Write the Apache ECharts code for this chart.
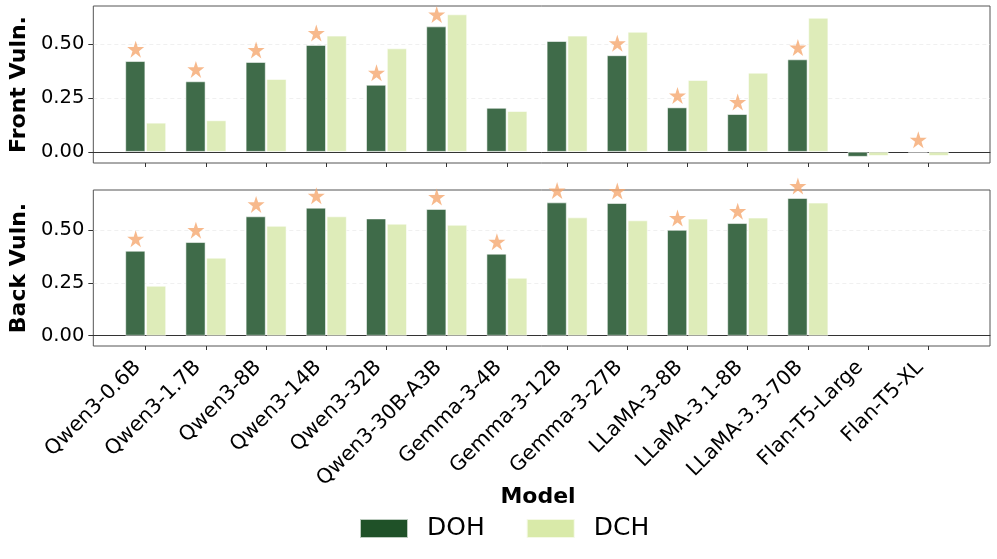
<!DOCTYPE html>
<html>
<head>
<meta charset="utf-8">
<script src="https://cdn.jsdelivr.net/npm/echarts@6/dist/echarts.min.js"></script>
<style>html,body{margin:0;padding:0;background:#fff;}#c{width:997px;height:559px;}</style>
</head>
<body>
<div id="c"></div>
<script>
const categories = ['Qwen3-0.6B','Qwen3-1.7B','Qwen3-8B','Qwen3-14B','Qwen3-32B','Qwen3-30B-A3B','Gemma-3-4B','Gemma-3-12B','Gemma-3-27B','LLaMA-3-8B','LLaMA-3.1-8B','LLaMA-3.3-70B','Flan-T5-Large','Flan-T5-XL'];
const frontDOH = [0.421,0.327,0.417,0.496,0.311,0.582,0.204,0.514,0.448,0.206,0.175,0.429,-0.023,-0.003];
const frontDCH = [0.135,0.146,0.338,0.539,0.480,0.638,0.189,0.539,0.557,0.333,0.367,0.622,-0.019,-0.019];
const backDOH  = [0.402,0.443,0.565,0.606,0.555,0.600,0.388,0.631,0.628,0.501,0.533,0.652,null,null];
const backDCH  = [0.236,0.369,0.520,0.565,0.530,0.525,0.274,0.560,0.546,0.554,0.559,0.630,null,null];
const frontStars = [1,1,1,1,1,1,0,0,1,1,1,1,0,1];
const backStars  = [1,1,1,1,0,1,1,1,1,1,1,1,0,0];
const yTicks = [0, 0.25, 0.5];
const frontRange = [-0.052, 0.677];
const backRange = [-0.049, 0.690];

const FONT = 'DejaVu Sans';
const DOH_COLOR = '#3f6b49';
const DCH_COLOR = '#deecb9';
const STAR = 'path://M50,0 L61.2,34.5 L97.6,34.5 L68.2,55.9 L79.4,90.5 L50,69.1 L20.6,90.5 L31.8,55.9 L2.4,34.5 L38.8,34.5 Z';

const chart = echarts.init(document.getElementById('c'));

function frameY(gi, range, name) {
  return {
    gridIndex: gi, type: 'value', min: range[0], max: range[1],
    name: name, nameLocation: 'middle', nameGap: 57, nameRotate: 90,
    nameTextStyle: {fontFamily: FONT, fontWeight: 'bold', fontSize: 22, color: '#000'},
    axisLine: {show: false},
    axisTick: {show: true, customValues: yTicks, length: 5, lineStyle: {color: '#333'}},
    axisLabel: {customValues: yTicks, formatter: v => v.toFixed(2), fontFamily: FONT, fontSize: 19.5, color: '#000', margin: 9},
    splitLine: {show: true, lineStyle: {color: '#ececec', type: [4, 3], width: 0.8}}
  };
}
function dataY(gi, range) {
  return {gridIndex: gi, type: 'value', min: range[0], max: range[1], show: false, splitLine: {show: false}};
}
function frameX(gi) {
  return {gridIndex: gi, type: 'value', min: 0, max: 1,
    axisLine: {show: true, onZero: true, lineStyle: {color: '#333', width: 1}},
    axisTick: {show: false}, axisLabel: {show: false}, splitLine: {show: false}};
}
function dataX(gi, showLabels) {
  return {gridIndex: gi, type: 'category', data: categories, boundaryGap: true,
    axisLine: {show: false, onZero: false},
    axisTick: {show: true, alignWithLabel: true, length: 4, lineStyle: {color: '#333'}},
    axisLabel: {show: showLabels, rotate: 45, interval: 0, fontFamily: FONT, fontSize: 20.5, color: '#000',
      margin: 25, align: 'right', verticalAlign: 'bottom', padding: [0, 1, 0, 0]},
    splitLine: {show: false}};
}
function bars(name, data, color, xi, yi) {
  return {type: 'bar', name: name, data: data, xAxisIndex: xi, yAxisIndex: yi,
    barWidth: 20, barGap: '4%',
    itemStyle: {color: color, borderColor: 'rgba(255,255,255,0.7)', borderWidth: 0.8}};
}
function stars(flags, vals, xi, yi) {
  return {type: 'scatter', data: flags.map((f, i) => f ? Math.max(vals[i], 0) : null),
    xAxisIndex: xi, yAxisIndex: yi, symbol: STAR, symbolSize: 17, symbolOffset: [-10, -12],
    itemStyle: {color: '#f5a86f'}, clip: false, z: 5, silent: true};
}

chart.setOption({
  animation: false,
  textStyle: {fontFamily: FONT},
  title: {text: 'Model', left: 538, top: 486, padding: 0, textAlign: 'center',
    textStyle: {fontFamily: FONT, fontWeight: 'bold', fontSize: 22, color: '#000'}},
  legend: {left: 359, top: 516, padding: 0, itemWidth: 48, itemHeight: 19, itemGap: 41,
    textStyle: {fontFamily: FONT, fontSize: 25, color: '#000', padding: [0, 0, 0, 14]},
    data: [{name: 'DOH', icon: 'rect', itemStyle: {color: '#1f5128'}},
           {name: 'DCH', icon: 'rect', itemStyle: {color: '#d9eaa9'}}]},
  grid: [
    {left: 84, top: 6, width: 906, height: 157, show: true, borderColor: '#555', borderWidth: 1, backgroundColor: 'transparent'},
    {left: 115.6, top: 6, width: 842.8, height: 157},
    {left: 84, top: 190, width: 906, height: 156, show: true, borderColor: '#555', borderWidth: 1, backgroundColor: 'transparent'},
    {left: 115.6, top: 190, width: 842.8, height: 156}
  ],
  xAxis: [frameX(0), dataX(1, false), frameX(2), dataX(3, true)],
  yAxis: [frameY(0, frontRange, 'Front Vuln.'), dataY(1, frontRange), frameY(2, backRange, 'Back Vuln.'), dataY(3, backRange)],
  series: [
    bars('DOH', frontDOH, DOH_COLOR, 1, 1),
    bars('DCH', frontDCH, DCH_COLOR, 1, 1),
    stars(frontStars, frontDOH, 1, 1),
    bars('DOH', backDOH, DOH_COLOR, 3, 3),
    bars('DCH', backDCH, DCH_COLOR, 3, 3),
    stars(backStars, backDOH, 3, 3)
  ]
});
</script>
</body>
</html>
